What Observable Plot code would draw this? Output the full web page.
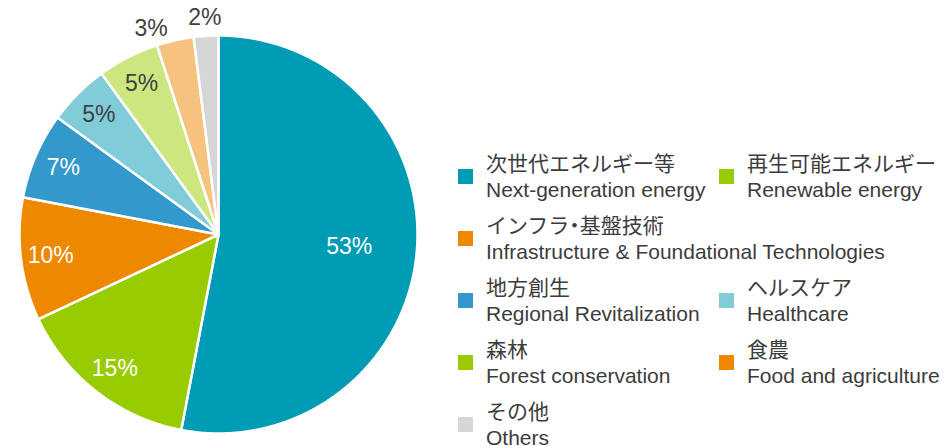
<!DOCTYPE html>
<html>
<head>
<meta charset="utf-8">
<script src="https://cdn.jsdelivr.net/npm/d3@7"></script>
<script src="https://cdn.jsdelivr.net/npm/@observablehq/plot@0.6"></script>
<style>
  html, body { margin: 0; padding: 0; background: #fff; }
  #wrap { position: relative; width: 945px; height: 446px; overflow: hidden;
    font-family: "Liberation Sans", Arial, "Noto Sans CJK JP", sans-serif; color: #3c3c3c; }
  #chart { position: absolute; left: 0; top: 0; }
  #legend { position: absolute; left: 458px; top: 149px; display: grid;
    grid-template-columns: 261px auto; row-gap: 8px; }
  .item { position: relative; padding-left: 28px; }
  .item.wide { grid-column: span 2; }
  .sw { position: absolute; left: 0; top: 19.5px; width: 15px; height: 15px; }
  .ln { height: 27px; line-height: 27px; font-size: 21px; white-space: nowrap; }
  .ja { font-family: "Noto Sans CJK JP", sans-serif; font-feature-settings: "halt"; }
</style>
</head>
<body>
<div id="wrap">
  <div id="chart"></div>
  <div id="legend"></div>
</div>
<script>
const categories = ["次世代エネルギー等", "再生可能エネルギー", "インフラ・基盤技術", "地方創生", "ヘルスケア", "森林", "食農", "その他"];
const englishNames = ["Next-generation energy", "Renewable energy", "Infrastructure & Foundational Technologies", "Regional Revitalization", "Healthcare", "Forest conservation", "Food and agriculture", "Others"];
const shares = [53, 15, 10, 7, 5, 5, 3, 2];
const sliceColors = ["#009bb5", "#99cc00", "#ee8800", "#3399cc", "#80ccd9", "#cce680", "#f5c27f", "#d6d6d6"];
const legendColors = ["#009bb5", "#99cc00", "#ee8800", "#3399cc", "#80ccd9", "#99cc00", "#ee8800", "#d6d6d6"];

// Pie geometry from the data via d3.pie (angles clockwise from 12 o'clock)
const arcs = d3.pie().sort(null).value(d => d)(shares);
const points = [];
arcs.forEach((a, i) => {
  const key = categories[i];
  points.push({key, x: 0, y: 0});
  const n = Math.max(2, Math.ceil((a.endAngle - a.startAngle) / 0.005));
  for (let k = 0; k <= n; k++) {
    const t = a.startAngle + (a.endAngle - a.startAngle) * k / n;
    points.push({key, x: Math.sin(t), y: Math.cos(t)});
  }
  points.push({key, x: 0, y: 0});
});

const maxShare = d3.max(shares);
const labels = arcs.map((a, i) => {
  const mid = (a.startAngle + a.endAngle) / 2;
  const v = shares[i];
  const r = v === maxShare ? 0.66 : v >= 5 ? 0.85 : 1.09;
  const light = d3.hsl(sliceColors[i]).l > 0.6 || r > 1;
  return {text: v + "%", r, x: r * Math.sin(mid), y: r * Math.cos(mid), fill: light ? "#404040" : "#ffffff"};
});
// keep outside labels apart (push earlier ones counter-clockwise)
const minGap = 0.27;
for (let i = labels.length - 2; i >= 0; i--) {
  const L = labels[i], N = labels[i + 1];
  if (L.r > 1 && N.r > 1 && L.x > N.x - minGap) {
    L.x = N.x - minGap;
    L.y = Math.sqrt(L.r * L.r - L.x * L.x);
  }
}

const chart = Plot.plot({
  width: 440,
  height: 446,
  margin: 0,
  x: {domain: [-1, 1], range: [19, 417], axis: null},
  y: {domain: [-1, 1], range: [433, 35], axis: null},
  color: {domain: categories, range: sliceColors},
  style: {fontFamily: "'Liberation Sans', Arial, sans-serif", background: "transparent"},
  marks: [
    Plot.line(points, {x: "x", y: "y", z: "key", fill: "key", stroke: "white", strokeWidth: 2.5, strokeLinejoin: "round"}),
    Plot.text(labels, {x: "x", y: "y", text: "text", fill: d => d.fill, fontSize: 23, textAnchor: "middle", lineAnchor: "middle"})
  ]
});
document.getElementById("chart").appendChild(chart);

const legend = document.getElementById("legend");
categories.forEach((c, i) => {
  const item = document.createElement("div");
  item.className = "item" + (i === 2 ? " wide" : "");
  item.innerHTML = `<div class="sw" style="background:${legendColors[i]}"></div>` +
    `<div class="ln ja">${c}</div><div class="ln">${englishNames[i].replace("&", "&amp;")}</div>`;
  legend.appendChild(item);
});
</script>
</body>
</html>
